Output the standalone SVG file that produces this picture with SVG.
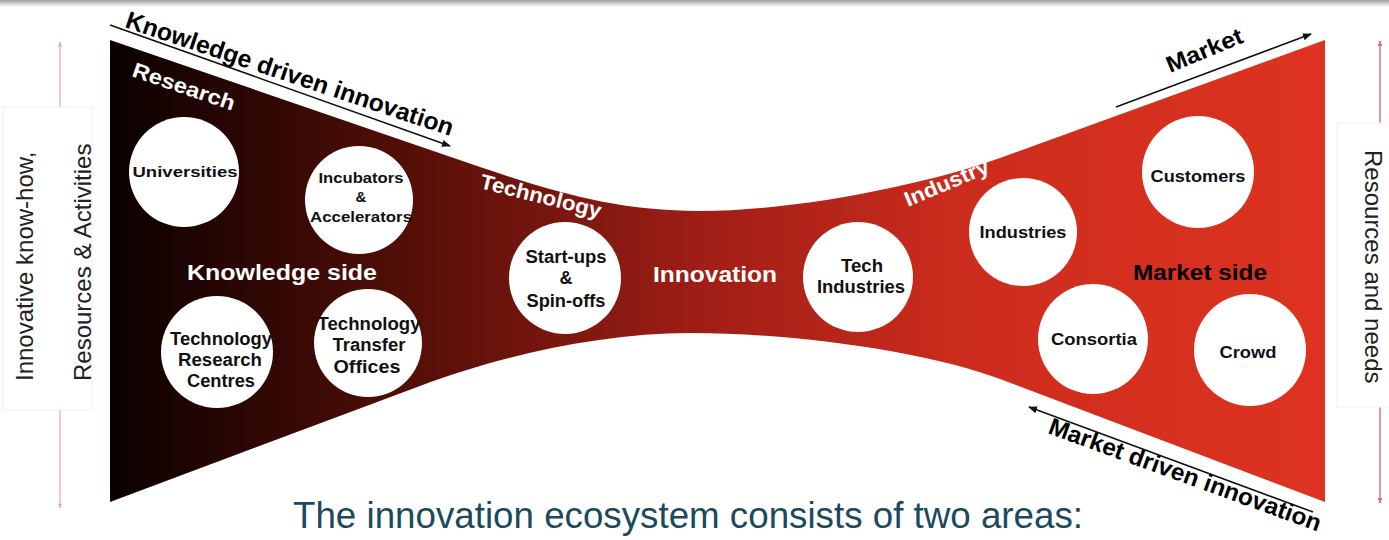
<svg xmlns="http://www.w3.org/2000/svg" width="1389" height="540" viewBox="0 0 1389 540">
<style>
.lbl{font-family:"Liberation Sans",Arial,sans-serif;font-weight:bold;text-anchor:middle;fill:#111111}
.wht{font-family:"Liberation Sans",Arial,sans-serif;font-weight:bold;fill:#ffffff}
.blk{font-family:"Liberation Sans",Arial,sans-serif;font-weight:bold;fill:#000000}
.side{font-family:"Liberation Sans",Arial,sans-serif;font-size:24px;fill:#222222}
.node circle{fill:#ffffff}
.arrow{stroke:#111111;stroke-width:1.6;fill:none}
.pink{stroke:#e8a8a8;stroke-width:1.2;fill:none}
.red{stroke:#e06868;stroke-width:1.4;fill:none}
</style>
<defs>
<linearGradient id="funnel" x1="110" y1="0" x2="1325" y2="0" gradientUnits="userSpaceOnUse">
<stop offset="0" stop-color="#0a0000"/>
<stop offset="0.26" stop-color="#581008"/>
<stop offset="0.49" stop-color="#a01e16"/>
<stop offset="0.7" stop-color="#cc2c1d"/>
<stop offset="1" stop-color="#de3320"/>
</linearGradient>
<linearGradient id="topbar" x1="0" y1="0" x2="0" y2="1">
<stop offset="0" stop-color="#a0a0a0"/>
<stop offset="1" stop-color="#ffffff"/>
</linearGradient>
<marker id="ah" viewBox="0 0 10 10" refX="9" refY="5" markerWidth="9" markerHeight="9" markerUnits="userSpaceOnUse" orient="auto">
<path d="M0,1 L10,5 L0,9 z" fill="#111111"/>
</marker>
<marker id="ahp" viewBox="0 0 10 10" refX="9" refY="5" markerWidth="5" markerHeight="5" markerUnits="userSpaceOnUse" orient="auto">
<path d="M0,1 L10,5 L0,9 z" fill="#e8a8a8"/>
</marker>
<marker id="ahr" viewBox="0 0 10 10" refX="9" refY="5" markerWidth="6" markerHeight="6" markerUnits="userSpaceOnUse" orient="auto">
<path d="M0,1 L10,5 L0,9 z" fill="#e06868"/>
</marker>
</defs>
<rect x="0" y="0" width="1389" height="540" fill="#ffffff"/>
<rect x="0" y="0" width="1389" height="7" fill="url(#topbar)"/>

<g id="funnel-shape">
<path d="M110,40 L480,167 C560,194 620,211 700,211 C800,211 930,183 1000,158 L1325,40 L1325,502 L1000,379 C930,353 800,333 690,333 C600,333 500,356 420,386 L110,502 Z" fill="url(#funnel)"/>
</g>

<g id="side-left">
<line class="pink" x1="60" y1="410" x2="60" y2="42" marker-end="url(#ahp)"/>
<line class="pink" x1="60" y1="110" x2="60" y2="508" marker-end="url(#ahp)"/>
<rect x="3" y="107" width="89" height="303" fill="#ffffff" stroke="#f0f0f0" stroke-width="1"/>
<text class="side" transform="translate(33,381) rotate(-90)">Innovative know-how,</text>
<text class="side" transform="translate(91,381) rotate(-90)">Resources &amp; Activities</text>
</g>

<g id="side-right">
<line class="red" x1="1380" y1="407" x2="1380" y2="41" marker-end="url(#ahr)"/>
<line class="red" x1="1380" y1="123" x2="1380" y2="503" marker-end="url(#ahr)"/>
<rect x="1337" y="123" width="60" height="284" fill="#ffffff" stroke="#f0f0f0" stroke-width="1"/>
<text class="side" transform="translate(1365,150) rotate(90)">Resources and needs</text>
</g>

<g id="connectors">
<line class="arrow" x1="110" y1="25" x2="450" y2="146" marker-end="url(#ah)"/>
<line class="arrow" x1="1116" y1="107" x2="1311" y2="34" marker-end="url(#ah)"/>
<line class="arrow" x1="1313" y1="512" x2="1029" y2="407" marker-end="url(#ah)"/>
</g>

<g id="flow-labels">
<text class="blk" font-size="24.5" transform="translate(124,27) rotate(18.5)" textLength="344" lengthAdjust="spacingAndGlyphs">Knowledge driven innovation</text>
<text class="blk" font-size="23" transform="translate(1170,73) rotate(-22.5)" textLength="81" lengthAdjust="spacingAndGlyphs">Market</text>
<text class="blk" font-size="24" transform="translate(1047,433) rotate(20)" textLength="288" lengthAdjust="spacingAndGlyphs">Market driven innovation</text>
<text class="wht" font-size="21" transform="translate(131,76) rotate(19)" textLength="107" lengthAdjust="spacingAndGlyphs">Research</text>
<text class="wht" font-size="21" transform="translate(479,188) rotate(14)" textLength="124" lengthAdjust="spacingAndGlyphs">Technology</text>
<text class="wht" font-size="21" transform="translate(908,207) rotate(-23)" textLength="90" lengthAdjust="spacingAndGlyphs">Industry</text>
<text class="wht" font-size="21.5" x="282" y="280" text-anchor="middle" textLength="190" lengthAdjust="spacingAndGlyphs">Knowledge side</text>
<text class="wht" font-size="22" x="715" y="282" text-anchor="middle" textLength="124" lengthAdjust="spacingAndGlyphs">Innovation</text>
<text class="blk" font-size="22" x="1200" y="280" text-anchor="middle" textLength="134" lengthAdjust="spacingAndGlyphs">Market side</text>
</g>

<g id="node-universities" class="node">
<circle cx="184" cy="172" r="55"/>
<text class="lbl" font-size="15.5" x="185" y="177" textLength="105" lengthAdjust="spacingAndGlyphs">Universities</text>
</g>
<g id="node-incubators" class="node">
<circle cx="359" cy="200" r="54"/>
<text class="lbl" font-size="15" x="361" y="183" textLength="85" lengthAdjust="spacingAndGlyphs">Incubators</text>
<text class="lbl" font-size="15" x="361" y="202">&amp;</text>
<text class="lbl" font-size="15" x="361" y="222" textLength="102" lengthAdjust="spacingAndGlyphs">Accelerators</text>
</g>
<g id="node-research-centres" class="node">
<circle cx="217" cy="352" r="56"/>
<text class="lbl" font-size="18" x="221" y="345" textLength="102" lengthAdjust="spacingAndGlyphs">Technology</text>
<text class="lbl" font-size="18" x="220" y="366" textLength="84" lengthAdjust="spacingAndGlyphs">Research</text>
<text class="lbl" font-size="18" x="221" y="387" textLength="68" lengthAdjust="spacingAndGlyphs">Centres</text>
</g>
<g id="node-transfer-offices" class="node">
<circle cx="368" cy="343" r="54"/>
<text class="lbl" font-size="18" x="369" y="330" textLength="103" lengthAdjust="spacingAndGlyphs">Technology</text>
<text class="lbl" font-size="18" x="369" y="351" textLength="73" lengthAdjust="spacingAndGlyphs">Transfer</text>
<text class="lbl" font-size="18" x="367" y="373" textLength="67" lengthAdjust="spacingAndGlyphs">Offices</text>
</g>
<g id="node-startups" class="node">
<circle cx="565" cy="278" r="56"/>
<text class="lbl" font-size="18" x="566" y="263" textLength="81" lengthAdjust="spacingAndGlyphs">Start-ups</text>
<text class="lbl" font-size="18" x="566" y="284">&amp;</text>
<text class="lbl" font-size="18" x="566" y="307" textLength="79" lengthAdjust="spacingAndGlyphs">Spin-offs</text>
</g>
<g id="node-tech-industries" class="node">
<circle cx="858" cy="277" r="55"/>
<text class="lbl" font-size="18" x="862" y="272" textLength="42" lengthAdjust="spacingAndGlyphs">Tech</text>
<text class="lbl" font-size="18" x="861" y="293" textLength="88" lengthAdjust="spacingAndGlyphs">Industries</text>
</g>
<g id="node-industries" class="node">
<circle cx="1023" cy="232" r="54"/>
<text class="lbl" font-size="16.5" x="1023" y="238" textLength="87" lengthAdjust="spacingAndGlyphs">Industries</text>
</g>
<g id="node-customers" class="node">
<circle cx="1198" cy="172" r="56"/>
<text class="lbl" font-size="16.5" x="1198" y="182" textLength="95" lengthAdjust="spacingAndGlyphs">Customers</text>
</g>
<g id="node-consortia" class="node">
<circle cx="1093" cy="339" r="55"/>
<text class="lbl" font-size="16.5" x="1094" y="345" textLength="86" lengthAdjust="spacingAndGlyphs">Consortia</text>
</g>
<g id="node-crowd" class="node">
<circle cx="1250" cy="350" r="56"/>
<text class="lbl" font-size="16.5" x="1248" y="358" textLength="57" lengthAdjust="spacingAndGlyphs">Crowd</text>
</g>

<text x="688" y="528" text-anchor="middle" font-family="Liberation Sans, Arial, sans-serif" font-size="36" fill="#1b4a5e" textLength="790" lengthAdjust="spacingAndGlyphs">The innovation ecosystem consists of two areas:</text>
</svg>
